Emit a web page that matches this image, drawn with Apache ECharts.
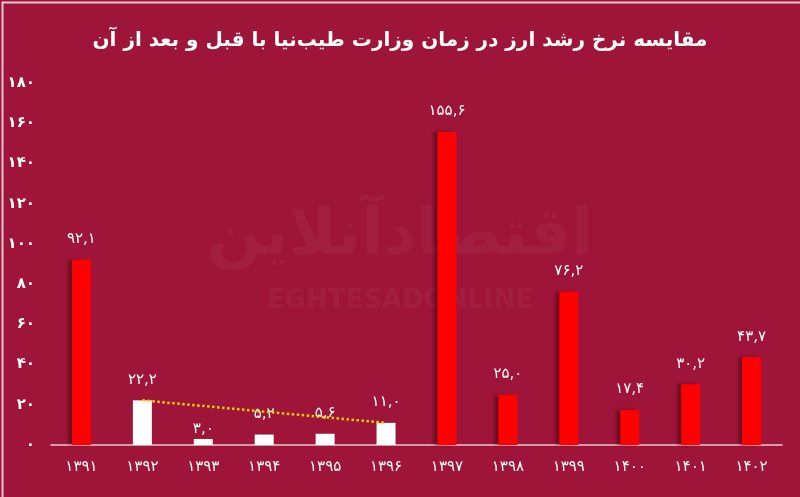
<!DOCTYPE html>
<html><head><meta charset="utf-8">
<script src="https://cdn.jsdelivr.net/npm/echarts@6/dist/echarts.min.js"></script>
<style>html,body{margin:0;padding:0;background:#9e1539}#c{width:800px;height:497px}</style>
</head><body><div id="c"></div>
<script>
const years = [1391,1392,1393,1394,1395,1396,1397,1398,1399,1400,1401,1402];
const growth = [92.1,22.2,3.0,5.2,5.6,11.0,155.6,25.0,76.2,17.4,30.2,43.7];
const tayebniaYears = [1392,1393,1394,1395,1396];
const yTicks = [0,20,40,60,80,100,120,140,160,180];
const titleText = 'مقایسه نرخ رشد ارز در زمان وزارت طیب‌نیا با قبل و بعد از آن';

const faDigits = '۰۱۲۳۴۵۶۷۸۹';
function fa(s){ return String(s).replace(/\d/g, d => faDigits[+d]).replace('.', ','); }

const FONT = '"DejaVu Sans", sans-serif';
const cats = years.map(String);
const chart = echarts.init(document.getElementById('c'));
const barData = growth.map((v,i) => {
  const white = tayebniaYears.includes(years[i]);
  return {
    value: v,
    itemStyle: white ? {color:'#ffffff', shadowBlur:0} : {color:'#ff0000', shadowColor:'rgba(40,0,0,0.45)', shadowBlur:3, shadowOffsetX:-4},
    label: v < 4 ? {distance: 2} : {}
  };
});
const i0 = years.indexOf(tayebniaYears[0]), i1 = years.indexOf(tayebniaYears[tayebniaYears.length-1]);
chart.setOption({
  backgroundColor:'#9e1539',
  animation:false,
  title:{text:titleText, left:'center', top:26, textStyle:{color:'#ffffff', fontFamily:FONT, fontSize:20, fontWeight:'bold'}},
  graphic:[
    {type:'rect', left:0, top:0, shape:{width:799, height:496}, style:{fill:'none', stroke:'#e9c7ce', lineWidth:2}, silent:true},
    {type:'text', left:'center', top:205, z:0, style:{text:'اقتصادآنلاین', fill:'rgba(255,255,255,0.04)', font:'bold 64px "DejaVu Sans"'}, silent:true},
    {type:'text', left:'center', top:288, z:0, style:{text:'EGHTESADONLINE', fill:'rgba(255,255,255,0.04)', font:'bold 26px "DejaVu Sans"'}, silent:true}
  ],
  grid:{left:51, right:18, top:83, bottom:52},
  xAxis:{type:'category', data:cats,
    axisLine:{lineStyle:{color:'#e9c7ce', width:1.5}}, axisTick:{show:false},
    axisLabel:{color:'#ffffff', fontFamily:FONT, fontSize:15, margin:15, formatter:v=>fa(v)}},
  yAxis:{type:'value', min:0, max:180, interval:20,
    axisLine:{show:false}, axisTick:{show:false}, splitLine:{show:false},
    axisLabel:{color:'#ffffff', fontFamily:FONT, fontSize:15, fontWeight:'bold', margin:16,
      formatter:v=> yTicks.includes(v) ? fa(v) : ''}},
  series:[{
    type:'bar', data:barData, barWidth:19,
    label:{show:true, position:'top', distance:13, color:'#ffffff', fontFamily:FONT, fontSize:15,
      formatter:p=>fa(p.value.toFixed(1))},
    markLine:{silent:true, symbol:['none','arrow'], symbolSize:[0,10], z:10,
      lineStyle:{color:'#f5d000', type:'dotted', width:2.5},
      label:{show:false},
      data:[[{coord:[cats[i0], growth[i0]]},{coord:[cats[i1], growth[i1]]}]]}
  }]
});
</script></body></html>
